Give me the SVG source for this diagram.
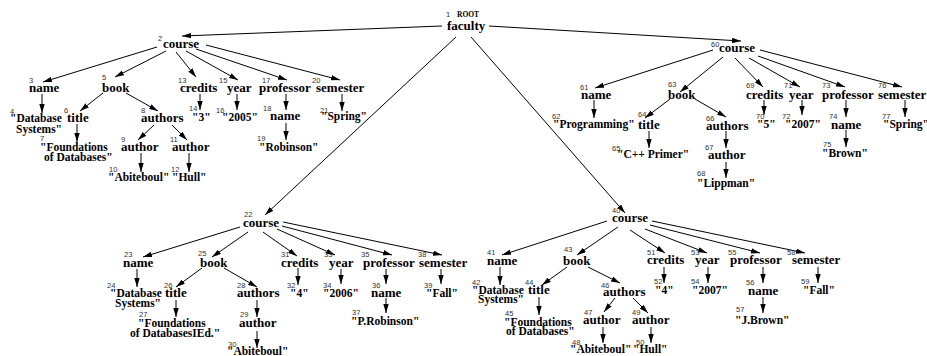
<svg xmlns="http://www.w3.org/2000/svg" width="927" height="356" viewBox="0 0 927 356">
<defs>
<marker id="ah" viewBox="0 0 10 6" refX="10" refY="3" markerWidth="9" markerHeight="5.4" markerUnits="userSpaceOnUse" orient="auto"><path d="M0,0 L10,3 L0,6 z" fill="#000"/></marker>
<style>
.l{font-family:"Liberation Serif","Times New Roman",serif;font-weight:bold;font-size:13px;fill:#000}
.v{font-family:"Liberation Serif","Times New Roman",serif;font-weight:bold;font-size:11.5px;fill:#000}
.n{font-family:"Liberation Sans",Arial,sans-serif;font-size:7.5px;fill:#333}
.r{font-family:"Liberation Serif","Times New Roman",serif;font-weight:bold;font-size:7.5px;fill:#000}
#edges line{stroke:#000;stroke-width:1;marker-end:url(#ah)}
</style>
</defs>
<rect width="927" height="356" fill="#fff"/>
<g id="edges">
<line x1="442" y1="26" x2="182" y2="36"/>
<line x1="489" y1="26" x2="741" y2="41"/>
<line x1="456" y1="37" x2="265" y2="215"/>
<line x1="471" y1="37" x2="625" y2="213"/>
<line x1="157" y1="47" x2="43" y2="82"/>
<line x1="166" y1="51" x2="115" y2="77"/>
<line x1="176" y1="52" x2="196" y2="77"/>
<line x1="186" y1="51" x2="238" y2="80"/>
<line x1="196" y1="49" x2="287" y2="80"/>
<line x1="206" y1="45" x2="340" y2="80"/>
<line x1="42" y1="94" x2="42" y2="113"/>
<line x1="103" y1="93" x2="80" y2="111"/>
<line x1="126" y1="93" x2="158" y2="111"/>
<line x1="77" y1="124" x2="77" y2="142"/>
<line x1="154" y1="125" x2="138" y2="140"/>
<line x1="172" y1="125" x2="187" y2="140"/>
<line x1="141" y1="153" x2="141" y2="172"/>
<line x1="189" y1="153" x2="189" y2="172"/>
<line x1="200" y1="94" x2="200" y2="110"/>
<line x1="237" y1="94" x2="237" y2="110"/>
<line x1="286" y1="94" x2="286" y2="110"/>
<line x1="286" y1="123" x2="286" y2="140"/>
<line x1="342" y1="94" x2="342" y2="111"/>
<line x1="713" y1="50" x2="595" y2="88"/>
<line x1="723" y1="57" x2="680" y2="92"/>
<line x1="735" y1="58" x2="763" y2="87"/>
<line x1="749" y1="58" x2="800" y2="87"/>
<line x1="758" y1="56" x2="845" y2="87"/>
<line x1="760" y1="50" x2="902" y2="87"/>
<line x1="594" y1="100" x2="594" y2="118"/>
<line x1="670" y1="99" x2="645" y2="118"/>
<line x1="695" y1="99" x2="726" y2="117"/>
<line x1="649" y1="131" x2="649" y2="148"/>
<line x1="726" y1="131" x2="726" y2="148"/>
<line x1="726" y1="162" x2="726" y2="178"/>
<line x1="764" y1="100" x2="764" y2="115"/>
<line x1="802" y1="100" x2="802" y2="115"/>
<line x1="846" y1="100" x2="846" y2="117"/>
<line x1="846" y1="130" x2="846" y2="147"/>
<line x1="905" y1="100" x2="905" y2="117"/>
<line x1="240" y1="227" x2="143" y2="257"/>
<line x1="248" y1="232" x2="212" y2="257"/>
<line x1="263" y1="232" x2="297" y2="256"/>
<line x1="277" y1="229" x2="335" y2="255"/>
<line x1="282" y1="226" x2="392" y2="255"/>
<line x1="283" y1="222" x2="442" y2="255"/>
<line x1="137" y1="269" x2="137" y2="287"/>
<line x1="202" y1="268" x2="176" y2="287"/>
<line x1="224" y1="268" x2="257" y2="287"/>
<line x1="176" y1="300" x2="176" y2="317"/>
<line x1="257" y1="300" x2="257" y2="317"/>
<line x1="257" y1="331" x2="257" y2="348"/>
<line x1="298" y1="268" x2="298" y2="285"/>
<line x1="341" y1="269" x2="341" y2="284"/>
<line x1="386" y1="269" x2="386" y2="284"/>
<line x1="386" y1="298" x2="386" y2="313"/>
<line x1="441" y1="269" x2="441" y2="284"/>
<line x1="607" y1="221" x2="502" y2="255"/>
<line x1="618" y1="227" x2="577" y2="255"/>
<line x1="630" y1="230" x2="665" y2="253"/>
<line x1="645" y1="229" x2="707" y2="253"/>
<line x1="650" y1="225" x2="760" y2="253"/>
<line x1="652" y1="221" x2="805" y2="253"/>
<line x1="500" y1="267" x2="500" y2="285"/>
<line x1="567" y1="267" x2="542" y2="285"/>
<line x1="588" y1="267" x2="620" y2="283"/>
<line x1="539" y1="297" x2="539" y2="315"/>
<line x1="615" y1="298" x2="604" y2="312"/>
<line x1="633" y1="298" x2="648" y2="313"/>
<line x1="603" y1="327" x2="603" y2="343"/>
<line x1="651" y1="327" x2="651" y2="343"/>
<line x1="664" y1="267" x2="664" y2="283"/>
<line x1="708" y1="267" x2="708" y2="283"/>
<line x1="763" y1="267" x2="763" y2="283"/>
<line x1="763" y1="297" x2="763" y2="313"/>
<line x1="818" y1="267" x2="818" y2="283"/>
</g>
<g id="n1"><text class="n" x="446" y="17">1</text><text class="r" x="457" y="17">ROOT</text><text class="l" x="447" y="30">faculty</text></g>
<g id="n2"><text class="n" x="158" y="41">2</text><text class="l" x="163" y="48">course</text></g>
<g id="n3"><text class="n" x="29" y="83">3</text><text class="l" x="29" y="92">name</text></g>
<g id="n4"><text class="n" x="10" y="114">4</text><text class="v" x="10" y="122">"Database</text><text class="v" x="16" y="133">Systems"</text></g>
<g id="n5"><text class="n" x="102" y="80">5</text><text class="l" x="102" y="92">book</text></g>
<g id="n6"><text class="n" x="64" y="113">6</text><text class="l" x="67" y="122">title</text></g>
<g id="n7"><text class="n" x="40" y="141">7</text><text class="v" x="40" y="151">"Foundations</text><text class="v" x="44" y="161">of Databases"</text></g>
<g id="n8"><text class="n" x="141" y="113">8</text><text class="l" x="141" y="122">authors</text></g>
<g id="n9"><text class="n" x="121" y="142">9</text><text class="l" x="121" y="151">author</text></g>
<g id="n10"><text class="n" x="109" y="172">10</text><text class="v" x="108" y="181">"Abiteboul"</text></g>
<g id="n11"><text class="n" x="170" y="142">11</text><text class="l" x="172" y="151">author</text></g>
<g id="n12"><text class="n" x="171" y="172">12</text><text class="v" x="172" y="181">"Hull"</text></g>
<g id="n13"><text class="n" x="178" y="83">13</text><text class="l" x="180" y="92">credits</text></g>
<g id="n14"><text class="n" x="189" y="111">14</text><text class="v" x="192" y="121">"3"</text></g>
<g id="n15"><text class="n" x="219" y="83">15</text><text class="l" x="227" y="92">year</text></g>
<g id="n16"><text class="n" x="216" y="113">16</text><text class="v" x="222" y="121">"2005"</text></g>
<g id="n17"><text class="n" x="262" y="83">17</text><text class="l" x="259" y="92">professor</text></g>
<g id="n18"><text class="n" x="263" y="111">18</text><text class="l" x="270" y="120">name</text></g>
<g id="n19"><text class="n" x="257" y="141">19</text><text class="v" x="259" y="151">"Robinson"</text></g>
<g id="n20"><text class="n" x="312" y="83">20</text><text class="l" x="316" y="92">semester</text></g>
<g id="n21"><text class="n" x="320" y="113">21</text><text class="v" x="321" y="120">"Spring"</text></g>
<g id="n60"><text class="n" x="711" y="47">60</text><text class="l" x="719" y="52">course</text></g>
<g id="n61"><text class="n" x="580" y="90">61</text><text class="l" x="581" y="99">name</text></g>
<g id="n62"><text class="n" x="552" y="119">62</text><text class="v" x="553" y="128">"Programming"</text></g>
<g id="n63"><text class="n" x="668" y="87">63</text><text class="l" x="668" y="99">book</text></g>
<g id="n64"><text class="n" x="638" y="117">64</text><text class="l" x="638" y="129">title</text></g>
<g id="n65"><text class="n" x="612" y="151">65</text><text class="v" x="617" y="158">"C++ Primer"</text></g>
<g id="n66"><text class="n" x="706" y="121">66</text><text class="l" x="706" y="130">authors</text></g>
<g id="n67"><text class="n" x="705" y="150">67</text><text class="l" x="708" y="159">author</text></g>
<g id="n68"><text class="n" x="697" y="176">68</text><text class="v" x="697" y="187">"Lippman"</text></g>
<g id="n69"><text class="n" x="746" y="88">69</text><text class="l" x="746" y="99">credits</text></g>
<g id="n70"><text class="n" x="756" y="119">70</text><text class="v" x="757" y="128">"5"</text></g>
<g id="n71"><text class="n" x="784" y="88">71</text><text class="l" x="789" y="99">year</text></g>
<g id="n72"><text class="n" x="782" y="119">72</text><text class="v" x="785" y="128">"2007"</text></g>
<g id="n73"><text class="n" x="822" y="88">73</text><text class="l" x="822" y="99">professor</text></g>
<g id="n74"><text class="n" x="829" y="119">74</text><text class="l" x="831" y="129">name</text></g>
<g id="n75"><text class="n" x="823" y="147">75</text><text class="v" x="822" y="157">"Brown"</text></g>
<g id="n76"><text class="n" x="878" y="88">76</text><text class="l" x="878" y="99">semester</text></g>
<g id="n77"><text class="n" x="882" y="119">77</text><text class="v" x="883" y="128">"Spring"</text></g>
<g id="n22"><text class="n" x="244" y="217">22</text><text class="l" x="243" y="227">course</text></g>
<g id="n23"><text class="n" x="124" y="257">23</text><text class="l" x="123" y="267">name</text></g>
<g id="n24"><text class="n" x="107" y="288">24</text><text class="v" x="110" y="297">"Database</text><text class="v" x="115" y="307">Systems"</text></g>
<g id="n25"><text class="n" x="198" y="256">25</text><text class="l" x="200" y="267">book</text></g>
<g id="n26"><text class="n" x="164" y="288">26</text><text class="l" x="165" y="297">title</text></g>
<g id="n27"><text class="n" x="139" y="317">27</text><text class="v" x="138" y="327">"Foundations</text><text class="v" x="130" y="337">of DatabasesIEd."</text></g>
<g id="n28"><text class="n" x="237" y="288">28</text><text class="l" x="237" y="297">authors</text></g>
<g id="n29"><text class="n" x="240" y="317">29</text><text class="l" x="239" y="327">author</text></g>
<g id="n30"><text class="n" x="228" y="347">30</text><text class="v" x="227" y="355">"Abiteboul"</text></g>
<g id="n31"><text class="n" x="281" y="257">31</text><text class="l" x="281" y="267">credits</text></g>
<g id="n32"><text class="n" x="287" y="288">32</text><text class="v" x="290" y="297">"4"</text></g>
<g id="n33"><text class="n" x="324" y="257">33</text><text class="l" x="329" y="267">year</text></g>
<g id="n34"><text class="n" x="323" y="288">34</text><text class="v" x="323" y="297">"2006"</text></g>
<g id="n35"><text class="n" x="361" y="257">35</text><text class="l" x="363" y="267">professor</text></g>
<g id="n36"><text class="n" x="372" y="288">36</text><text class="l" x="371" y="297">name</text></g>
<g id="n37"><text class="n" x="352" y="315">37</text><text class="v" x="351" y="325">"P.Robinson"</text></g>
<g id="n38"><text class="n" x="418" y="257">38</text><text class="l" x="419" y="267">semester</text></g>
<g id="n39"><text class="n" x="424" y="288">39</text><text class="v" x="426" y="297">"Fall"</text></g>
<g id="n40"><text class="n" x="612" y="213">40</text><text class="l" x="612" y="222">course</text></g>
<g id="n41"><text class="n" x="487" y="255">41</text><text class="l" x="487" y="265">name</text></g>
<g id="n42"><text class="n" x="472" y="285">42</text><text class="v" x="472" y="294">"Database</text><text class="v" x="478" y="303">Systems"</text></g>
<g id="n43"><text class="n" x="564" y="252">43</text><text class="l" x="563" y="265">book</text></g>
<g id="n44"><text class="n" x="525" y="285">44</text><text class="l" x="528" y="294">title</text></g>
<g id="n45"><text class="n" x="505" y="316">45</text><text class="v" x="504" y="326">"Foundations</text><text class="v" x="506" y="335">of Databases"</text></g>
<g id="n46"><text class="n" x="601" y="288">46</text><text class="l" x="603" y="296">authors</text></g>
<g id="n47"><text class="n" x="584" y="315">47</text><text class="l" x="583" y="324">author</text></g>
<g id="n48"><text class="n" x="572" y="345">48</text><text class="v" x="570" y="353">"Abiteboul"</text></g>
<g id="n49"><text class="n" x="632" y="315">49</text><text class="l" x="632" y="324">author</text></g>
<g id="n50"><text class="n" x="636" y="345">50</text><text class="v" x="633" y="353">"Hull"</text></g>
<g id="n51"><text class="n" x="647" y="255">51</text><text class="l" x="647" y="264">credits</text></g>
<g id="n52"><text class="n" x="654" y="284">52</text><text class="v" x="655" y="294">"4"</text></g>
<g id="n53"><text class="n" x="691" y="255">53</text><text class="l" x="695" y="264">year</text></g>
<g id="n54"><text class="n" x="691" y="284">54</text><text class="v" x="692" y="294">"2007"</text></g>
<g id="n55"><text class="n" x="728" y="255">55</text><text class="l" x="730" y="264">professor</text></g>
<g id="n56"><text class="n" x="746" y="285">56</text><text class="l" x="748" y="295">name</text></g>
<g id="n57"><text class="n" x="736" y="312">57</text><text class="v" x="735" y="324">"J.Brown"</text></g>
<g id="n58"><text class="n" x="787" y="255">58</text><text class="l" x="792" y="264">semester</text></g>
<g id="n59"><text class="n" x="801" y="284">59</text><text class="v" x="803" y="294">"Fall"</text></g>
</svg>
